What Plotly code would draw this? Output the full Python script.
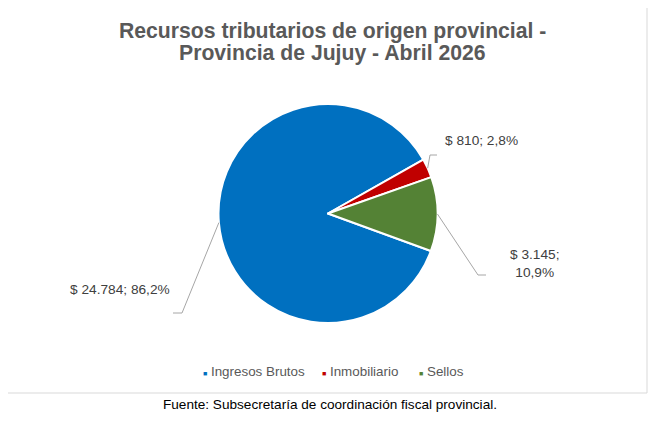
import math
import plotly.graph_objects as go

# datos (millones de $)
categorias = ["Ingresos Brutos", "Inmobiliario", "Sellos"]
montos = [24784, 810, 3145]
montos_txt = ["$ 24.784", "$ 810", "$ 3.145"]
porcentajes_txt = ["86,2%", "2,8%", "10,9%"]
colores = ["#0070C0", "#C00000", "#548235"]

titulo_lineas = ["Recursos tributarios de origen provincial -", "Provincia de Jujuy - Abril 2026"]
fuente = "Fuente: Subsecretaría de coordinación fiscal provincial."

W, H = 661, 422
OFF = 8                          # margen del body de la página
CX, CY, R = 328, 213.5, 109.5   # centro y radio de la torta en px (ventana)
ROT = 110                        # inicio del primer sector (grados desde las 12)
FAM = "Liberation Sans, Arial"


def px(x, y):
    return (x - OFF) / W, 1 - (y - OFF) / H


fig = go.Figure()

d0 = px(CX - R, CY + R)
d1 = px(CX + R, CY - R)
fig.add_trace(go.Pie(
    labels=categorias,
    values=montos,
    marker=dict(colors=colores, line=dict(color="white", width=2)),
    sort=False,
    direction="clockwise",
    rotation=ROT,
    textinfo="none",
    hoverinfo="label+value+percent",
    showlegend=False,
    domain=dict(x=[d0[0], d1[0]], y=[d0[1], d1[1]]),
))

# etiquetas con líneas guía (codo y posición del texto en px)
codos = [((182, 313), (173, 313)), ((430, 155), (437, 155)), ((478, 275), (486, 275))]
textos_pos = [(172, 289, "right"), (443, 140, "left"), (534, 263, "center")]
etiquetas = [
    f"{montos_txt[0]}; {porcentajes_txt[0]}",
    f"{montos_txt[1]}; {porcentajes_txt[1]}",
    f"{montos_txt[2]};<br>{porcentajes_txt[2]}",
]

total = sum(montos)
acum = 0
shapes = []
annotations = []
for i, v in enumerate(montos):
    ang = math.radians(ROT + 360 * (acum + v / 2) / total)
    acum += v
    ex, ey = CX + R * math.sin(ang), CY - R * math.cos(ang)
    (bx, by), (fx, fy) = codos[i]
    p0, p1, p2 = px(ex, ey), px(bx, by), px(fx, fy)
    shapes.append(dict(
        type="path", xref="paper", yref="paper",
        path=f"M {p0[0]},{p0[1]} L {p1[0]},{p1[1]} L {p2[0]},{p2[1]}",
        line=dict(color="#A6A6A6", width=1),
    ))
    tx, ty, al = textos_pos[i]
    ax, ay = px(tx, ty)
    annotations.append(dict(
        text=etiquetas[i], x=ax, y=ay, xref="paper", yref="paper",
        xanchor=al, yanchor="middle", align="center", showarrow=False,
        font=dict(family=FAM, size=13.7, color="#404040"),
    ))

# leyenda
leyenda_x = [201, 320, 417]
for i, cat in enumerate(categorias):
    lx, ly = px(leyenda_x[i], 371)
    annotations.append(dict(
        text=f"<span style='font-size:7px;color:{colores[i]}'>■</span> {cat}",
        x=lx, y=ly, xref="paper", yref="paper", xanchor="left", yanchor="middle",
        showarrow=False,
        font=dict(family=FAM, size=13.4, color="#595959"),
    ))

# título
for i, linea in enumerate(titulo_lineas):
    tx, ty = px(332, 31 + 22.5 * i)
    annotations.append(dict(
        text=f"<b>{linea}</b>", x=tx, y=ty, xref="paper", yref="paper",
        xanchor="center", yanchor="middle", showarrow=False,
        font=dict(family=FAM, size=21.2, color="#595959"),
    ))

# fuente
fx_, fy_ = px(330, 404)
annotations.append(dict(
    text=fuente, x=fx_, y=fy_, xref="paper", yref="paper", xanchor="center",
    yanchor="middle", showarrow=False,
    font=dict(family=FAM, size=13.6, color="#000000"),
))

# marco del gráfico
x0, y0 = px(7, 6)
x1, y1 = px(647, 393)
shapes.append(dict(type="rect", xref="paper", yref="paper", x0=x0, y0=y1, x1=x1, y1=y0,
                   line=dict(color="#D9D9D9", width=1), layer="below"))

fig.update_layout(
    width=W, height=H,
    margin=dict(l=0, r=0, t=0, b=0),
    paper_bgcolor="white",
    shapes=shapes,
    annotations=annotations,
)

fig.write_html("out.html")
